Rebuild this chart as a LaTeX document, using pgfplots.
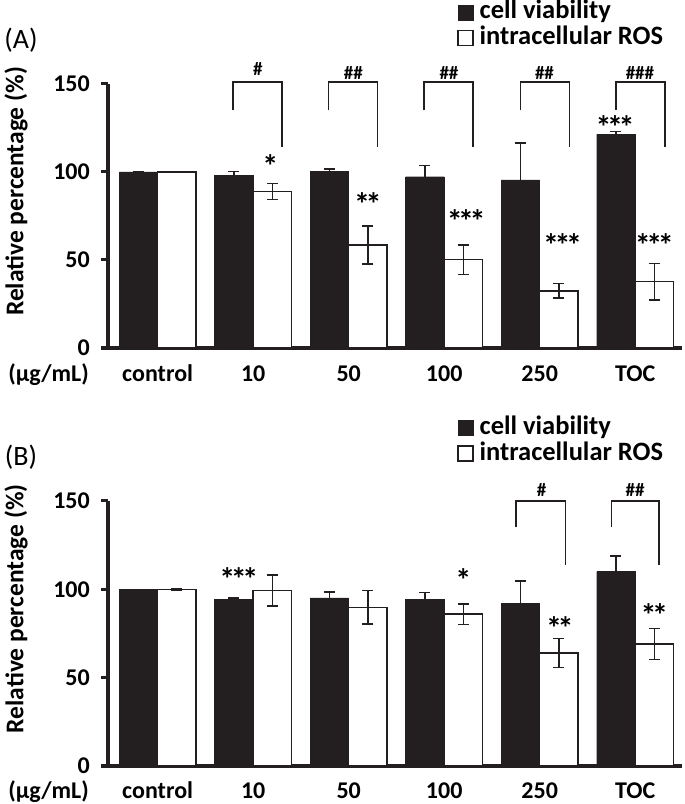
\documentclass[border=0pt]{standalone}
\usepackage{pgfplots}
\pgfplotsset{compat=1.18}
\usepackage{pgfplotstable}
\usepackage{fontspec}
\setmainfont{Carlito}
\definecolor{barblk}{HTML}{231F20}
\newcommand\lbl{\bfseries\fontsize{24}{28}\selectfont}
\newcommand\ylbl{\bfseries\fontsize{25.5}{30}\selectfont}
\newcommand\lgd{\bfseries\fontsize{26.5}{30}\selectfont}
\newcommand\starfont{\bfseries\fontsize{32}{32}\selectfont}
\newcommand\hashfont{\bfseries\fontsize{19}{19}\selectfont}
\newcommand\panelfont{\fontsize{28}{32}\selectfont}
\newcommand\sA{*}
\newcommand\sB{*\kern-4.5pt*}
\newcommand\sC{*\kern-4.5pt*\kern-4.5pt*}

\pgfplotstableread{
x y e
0 100 0
1 98 2.3
2 100.5 1.3
3 97.3 6.3
4 95.5 21
5 121.5 1.5
}\Ablack
\pgfplotstableread{
x y e
0 100 0.3
1 89 4.5
2 58.5 10.8
3 50.2 8.3
4 32.5 4.2
5 37.7 10.4
}\Awhite
\pgfplotstableread{
x y e
0 100 0
1 94.2 0.8
2 95.2 3.4
3 94.4 3.8
4 92 12.8
5 110 8.8
}\Bblack
\pgfplotstableread{
x y e
0 100 0.3
1 99.4 8.7
2 89.8 9.5
3 86 5.8
4 64 8.3
5 69 8.7
}\Bwhite

\tikzset{
 brk/.style={line width=1.5pt, barblk},
 star/.style={font=\starfont, yshift=-6.5pt},
 hash/.style={font=\hashfont},
}
\pgfplotsset{
 myaxis/.style={
  scale only axis, width=574pt, height=264pt,
  xmin=-0.52, xmax=5.49, ymin=0, ymax=150,
  ybar, bar width=38.5pt,
  axis x line=bottom, axis y line=left,
  axis line style={-, line width=3.2pt, barblk},
  x axis line style={shorten <=-7pt},
  xtick={0,...,5}, xticklabels={control,10,50,100,250,TOC},
  xtick style={draw=none},
  ytick={0,50,100,150},
  ytick style={line width=3pt, barblk},
  tick align=outside, major tick length=7pt,
  tick label style={font=\lbl},
  /pgf/number format/assume math mode=true,
  yticklabel style={anchor=east, inner sep=0pt, xshift=-11pt},
  xticklabel style={anchor=base, inner sep=0pt, yshift=-27pt},
  clip=false,
  ylabel={Relative percentage (\%)},
  ylabel style={font=\ylbl, at={(axis description cs:-0.160,0.593)}, anchor=center},
  error bars/y dir=both, error bars/y explicit,
  error bars/error bar style={line width=1.5pt, barblk},
  error bars/error mark options={rotate=90, mark size=5.5pt, line width=1.5pt, barblk},
  legend image code/.code={\draw[#1] (0pt,-7pt) rectangle (15pt,8pt); \path (21pt,0pt);},
  legend style={at={(axis description cs:0.608,1.32)}, anchor=north west,
    draw=none, fill=none, inner sep=0pt, row sep=0pt, font=\lgd,
    nodes={inner sep=0pt, text height=19pt, text depth=7pt}},
  legend cell align=left,
 },
 blackbar/.style={fill=barblk, draw=barblk, line width=0.4pt, bar shift=-19.25pt},
 whitebar/.style={fill=white, draw=barblk, line width=1.5pt, bar shift=19.25pt},
}

\begin{document}
\begin{tikzpicture}
\path[use as bounding box] (0pt,0pt) rectangle (685pt,804pt);

% ---------------- Panel A ----------------
\begin{axis}[myaxis, at={(108pt,456pt)}, anchor=south west]
\addplot[blackbar] table[x=x,y=y,y error=e]{\Ablack};
\addplot[whitebar] table[x=x,y=y,y error=e]{\Awhite};
\legend{cell viability, intracellular ROS}
% brackets
\draw[brk] (axis cs:0.79,135) |- (axis cs:1.30,151) -- (axis cs:1.30,114);
\draw[brk] (axis cs:1.79,135) |- (axis cs:2.30,151) -- (axis cs:2.30,114);
\draw[brk] (axis cs:2.79,135) |- (axis cs:3.30,151) -- (axis cs:3.30,114);
\draw[brk] (axis cs:3.80,135) |- (axis cs:4.31,151) -- (axis cs:4.31,114);
\draw[brk] (axis cs:4.80,135.5) |- (axis cs:5.31,151) -- (axis cs:5.31,114);
\node[hash] at (axis cs:1.05,158.5) {\#};
\node[hash] at (axis cs:2.05,156.5) {\#\#};
\node[hash] at (axis cs:3.05,156.5) {\#\#};
\node[hash] at (axis cs:4.05,156.5) {\#\#};
\node[hash] at (axis cs:5.05,156.5) {\#\#\#};
% stars
\node[star] at (axis cs:1.18,107) {\sA};
\node[star] at (axis cs:2.20,85.6) {\sB};
\node[star] at (axis cs:3.23,76) {\sC};
\node[star] at (axis cs:4.24,62) {\sC};
\node[star] at (axis cs:4.79,129.5) {\sC};
\node[star] at (axis cs:5.20,62) {\sC};
% panel label and unit
\node[font=\panelfont] at (axis description cs:-0.1516,1.1667) {(A)};
\node[font=\lbl, anchor=base east, inner sep=0pt] at ([yshift=-34pt]axis description cs:-0.033,0) {(µg/mL)};
\end{axis}

% ---------------- Panel B ----------------
\begin{axis}[myaxis, height=265pt, at={(108pt,38pt)}, anchor=south west,
  xticklabel style={yshift=2pt},
  legend style={at={(axis description cs:0.608,1.325)}}]
\addplot[blackbar] table[x=x,y=y,y error=e]{\Bblack};
\addplot[whitebar] table[x=x,y=y,y error=e]{\Bwhite};
\legend{cell viability, intracellular ROS}
\draw[brk] (axis cs:3.75,135) |- (axis cs:4.27,150) -- (axis cs:4.27,114);
\draw[brk] (axis cs:4.75,135) |- (axis cs:5.25,150) -- (axis cs:5.25,114);
\node[hash] at (axis cs:4.02,156.5) {\#};
\node[hash] at (axis cs:5.00,156.5) {\#\#};
\node[star] at (axis cs:0.85,109.3) {\sC};
\node[star] at (axis cs:3.20,109) {\sA};
\node[star] at (axis cs:4.21,81.6) {\sB};
\node[star] at (axis cs:5.20,89.2) {\sB};
\node[font=\panelfont] at (axis description cs:-0.1516,1.166) {(B)};
\node[font=\lbl, anchor=base east, inner sep=0pt] at ([yshift=-32pt]axis description cs:-0.033,0) {(µg/mL)};
\end{axis}
\end{tikzpicture}
\end{document}
